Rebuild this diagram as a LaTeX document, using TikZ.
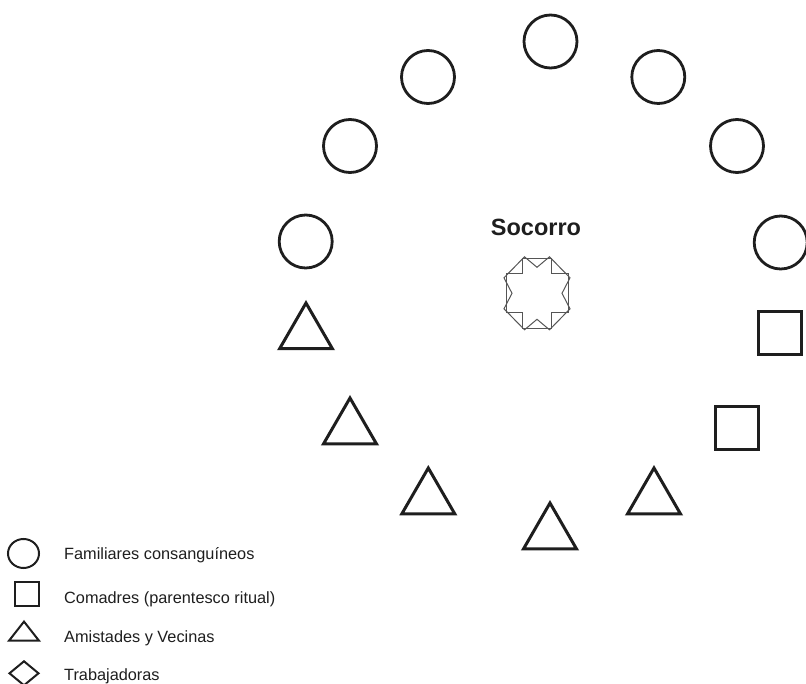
\documentclass[tikz,border=0pt]{standalone}
\usepackage{fontspec}
\setmainfont{Liberation Sans}
\usetikzlibrary{shapes.geometric}
\definecolor{ink}{HTML}{1E1E1E}
\definecolor{starline}{HTML}{555555}
\tikzset{
  kin/.style={circle, draw=ink, line width=2.8pt, minimum size=53pt, inner sep=0pt},
  comadre/.style={rectangle, draw=ink, line width=3pt, minimum size=43pt, inner sep=0pt},
  amiga/.style={regular polygon, regular polygon sides=3, draw=ink, line width=3pt, minimum size=61pt, inner sep=0pt},
  legendline/.style={draw=ink, line width=2pt},
  legendtext/.style={anchor=base west, inner sep=0pt, text=ink, font=\fontsize{16.3}{19}\selectfont},
  starpoly/.style={draw=starline, line width=1pt, line join=miter},
  egolabel/.style={anchor=base, inner sep=0pt, text=ink, font=\fontsize{23.5}{27}\selectfont\bfseries}
}
\begin{document}
\begin{tikzpicture}[x=1pt, y=-1pt]
\useasboundingbox (0,0) rectangle (806,684);
% blood relatives
\node[kin] (c1) at (550.5,41.5) {};
\node[kin] (c2) at (428,77) {};
\node[kin] (c3) at (658.3,77) {};
\node[kin] (c4) at (350,146) {};
\node[kin] (c5) at (737,146) {};
\node[kin] (c6) at (305.7,241.5) {};
\node[kin] (c7) at (780.7,242.5) {};
% comadres
\node[comadre] (s1) at (780.3,333) {};
\node[comadre] (s2) at (736.7,428.3) {};
% friends and neighbours
\node[amiga] (t1) at (306,333.5) {};
\node[amiga] (t2) at (350,428.5) {};
\node[amiga] (t3) at (428.3,498.5) {};
\node[amiga] (t4) at (550,533.5) {};
\node[amiga] (t5) at (654,498.5) {};
% ego
\node[egolabel] (ego) at (536,236) {Socorro};
\begin{scope}[shift={(537,293.3)}]
\coordinate (star) at (0,0);
\draw[starpoly] (-14.5,-35) -- (14.5,-35) -- (14.5,-19.5) -- (31,-19.5) -- (31,19.5) -- (14.5,19.5) -- (14.5,35) -- (-14.5,35) -- (-14.5,19.5) -- (-31,19.5) -- (-31,-19.5) -- (-14.5,-19.5) -- cycle;
\draw[starpoly] (-12.5,-36.5) -- (0,-26) -- (12.5,-36.5) -- (33,-15.5) -- (25,0) -- (33,15.5) -- (12.5,36.5) -- (0,26) -- (-12.5,36.5) -- (-33,15.5) -- (-25,0) -- (-33,-15.5) -- cycle;
\end{scope}
% legend
\node[ellipse, legendline, minimum width=31pt, minimum height=29pt, inner sep=0pt] (lc) at (23.5,553.5) {};
\node[rectangle, legendline, minimum size=24pt, inner sep=0pt] (ls) at (27,594) {};
\coordinate (lt) at (24,631);
\draw[legendline, line join=miter] (24,621.6) -- (39,640.7) -- (9,640.7) -- cycle;
\coordinate (ld) at (24,673.3);
\draw[legendline, line join=miter] (24,661.3) -- (38.5,673.3) -- (24,685.3) -- (9.5,673.3) -- cycle;
\node[legendtext] (lct) at (64,559.5) {Familiares consanguíneos};
\node[legendtext] (lst) at (64,603) {Comadres (parentesco ritual)};
\node[legendtext] (ltt) at (64,642) {Amistades y Vecinas};
\node[legendtext] (ldt) at (64,680) {Trabajadoras};
\end{tikzpicture}
\end{document}
